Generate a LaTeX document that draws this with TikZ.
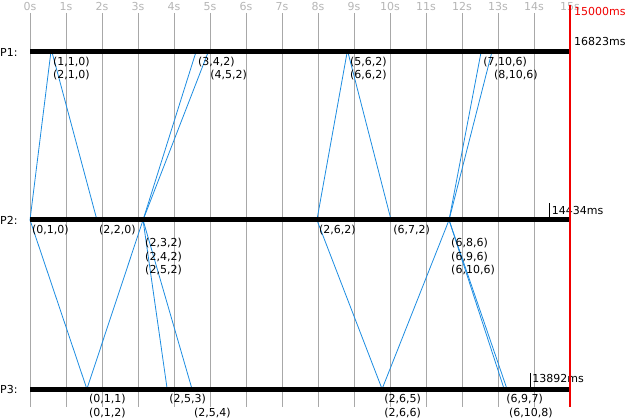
\documentclass[tikz,border=0pt]{standalone}
\usepackage{fontspec}
\setmainfont{DejaVu Sans}
\usepackage{tikz}
\usetikzlibrary{positioning}
\definecolor{msgblue}{RGB}{28,140,225}
\definecolor{gridgray}{RGB}{168,168,168}
\definecolor{limitred}{RGB}{240,0,0}

\begin{document}
\begin{tikzpicture}[
  x=1pt, y=-1pt,
  every node/.style={font=\fontsize{11}{13}\selectfont, inner sep=0pt},
  proc/.style={line width=5pt, black},
  gridln/.style={draw=gridgray, line width=0.8pt},
  tlabel/.style={text=gridgray!85!white},
  limit/.style={draw=limitred, line width=2.5pt},
  msg/.style={draw=msgblue, line width=0.8pt},
  clock/.style={anchor=west, xshift=2pt},
  endtick/.style={line width=0.8pt, black},
  endlbl/.style={anchor=west, xshift=2pt}
]
  \useasboundingbox (0,0) rectangle (629,419);

  %% --- Process names ---
  \node[anchor=west] (n1) at (0, 52)  {P1:};
  \node[anchor=west] (n2) at (0, 220) {P2:};
  \node[anchor=west] (n3) at (0, 389) {P3:};

  \begin{scope}[xshift=30pt, x=36pt]
  %% --- Time grid (x in seconds) ---
  \foreach \s in {0,...,15} {
    \draw[gridln] (\s, 13) -- (\s, 407);
    \node[tlabel] (t\s) at (\s, 7) {\s s};
  }

  %% --- Events on P1 ---
  \coordinate (e110)  at (0.58, 52);
  \coordinate (e210)  at (0.61, 52);
  \coordinate (e342)  at (4.61, 52);
  \coordinate (e452)  at (4.95, 52);
  \coordinate (e562)  at (8.81, 52);
  \coordinate (e662)  at (8.83, 52);
  \coordinate (e7106) at (12.53, 52);
  \coordinate (e8106) at (12.83, 52);

  %% --- Events on P2 ---
  \coordinate (e010)  at (0.00, 220);
  \coordinate (e220)  at (1.86, 220);
  \coordinate (e232)  at (3.14, 220);
  \coordinate (e242)  at (3.14, 220);
  \coordinate (e252)  at (3.14, 220);
  \coordinate (e262)  at (7.97, 220);
  \coordinate (e672)  at (10.03, 220);
  \coordinate (e686)  at (11.64, 220);
  \coordinate (e696)  at (11.64, 220);
  \coordinate (e6106) at (11.64, 220);

  %% --- Events on P3 ---
  \coordinate (e011)  at (1.58, 389);
  \coordinate (e012)  at (1.58, 389);
  \coordinate (e253)  at (3.81, 389);
  \coordinate (e254)  at (4.50, 389);
  \coordinate (e265)  at (9.78, 389);
  \coordinate (e266)  at (9.78, 389);
  \coordinate (e697)  at (13.17, 389);
  \coordinate (e6108) at (13.25, 389);

  %% --- Messages ---
  \draw[msg] (e010)  -- (e110);
  \draw[msg] (e010)  -- (e011);
  \draw[msg] (e210)  -- (e220);
  \draw[msg] (e012)  -- (e232);
  \draw[msg] (e242)  -- (e342);
  \draw[msg] (e252)  -- (e452);
  \draw[msg] (e252)  -- (e253);
  \draw[msg] (e242)  -- (e254);
  \draw[msg] (e262)  -- (e562);
  \draw[msg] (e262)  -- (e265);
  \draw[msg] (e662)  -- (e672);
  \draw[msg] (e266)  -- (e686);
  \draw[msg] (e696)  -- (e7106);
  \draw[msg] (e6106) -- (e8106);
  \draw[msg] (e6106) -- (e697);
  \draw[msg] (e696)  -- (e6108);

  %% --- Process lines ---
  \coordinate (p1s) at (0, 52);  \coordinate (p1e) at (15, 52);
  \coordinate (p2s) at (0, 220); \coordinate (p2e) at (15, 220);
  \coordinate (p3s) at (0, 389); \coordinate (p3e) at (15, 389);
  \draw[proc] (p1s) -- (p1e);
  \draw[proc] (p2s) -- (p2e);
  \draw[proc] (p3s) -- (p3e);

  %% --- Vector clock labels ---
  \node[clock] (l110)  at ([yshift=-10pt]e110)   {(1,1,0)};
  \node[clock] (l210)  at ([yshift=-23.5pt]e110) {(2,1,0)};
  \node[clock] (l342)  at ([yshift=-10pt]e342)   {(3,4,2)};
  \node[clock] (l452)  at ([yshift=-23.5pt]e452) {(4,5,2)};
  \node[clock] (l562)  at ([yshift=-10pt]e662)   {(5,6,2)};
  \node[clock] (l662)  at ([yshift=-23.5pt]e662) {(6,6,2)};
  \node[clock] (l7106) at ([yshift=-10pt]e7106)  {(7,10,6)};
  \node[clock] (l8106) at ([yshift=-23.5pt]e8106){(8,10,6)};

  \node[clock] (l010)  at ([yshift=-10.5pt]e010) {(0,1,0)};
  \node[clock] (l220)  at ([yshift=-10.5pt]e220) {(2,2,0)};
  \node[clock] (l232)  at ([yshift=-23.5pt]e232) {(2,3,2)};
  \node[clock] (l242)  at ([yshift=-37pt]e242)   {(2,4,2)};
  \node[clock] (l252)  at ([yshift=-50.5pt]e252) {(2,5,2)};
  \node[clock] (l262)  at ([yshift=-10.5pt]e262) {(2,6,2)};
  \node[clock] (l672)  at ([yshift=-10.5pt]e672) {(6,7,2)};
  \node[clock] (l686)  at ([yshift=-23.5pt]e686) {(6,8,6)};
  \node[clock] (l696)  at ([yshift=-37pt]e696)   {(6,9,6)};
  \node[clock] (l6106) at ([yshift=-50.5pt]e6106){(6,10,6)};

  \node[clock] (l011)  at ([yshift=-10.5pt]e011) {(0,1,1)};
  \node[clock] (l012)  at ([yshift=-24pt]e012)   {(0,1,2)};
  \node[clock] (l253)  at ([yshift=-10.5pt]e253) {(2,5,3)};
  \node[clock] (l254)  at ([yshift=-24pt]e254)   {(2,5,4)};
  \node[clock] (l265)  at ([yshift=-10.5pt]e265) {(2,6,5)};
  \node[clock] (l266)  at ([yshift=-24pt]e266)   {(2,6,6)};
  \node[clock] (l697)  at ([yshift=-10.5pt]e697) {(6,9,7)};
  \node[clock] (l6108) at ([yshift=-24pt]e6108)  {(6,10,8)};

  %% --- End times ---
  \coordinate (end2) at (14.434, 220);
  \coordinate (end3) at (13.892, 389);
  \draw[endtick] ([yshift=3pt]end2) -- ([yshift=17pt]end2);
  \draw[endtick] ([yshift=2pt]end3) -- ([yshift=16pt]end3);
  \node[endlbl] (d2) at ([yshift=10pt]end2) {14434ms};
  \node[endlbl] (d3) at ([yshift=11pt]end3) {13892ms};
  \node[endlbl, xshift=2pt] (d1) at ([yshift=10pt]p1e) {16823ms};

  %% --- Limit at 15 s ---
  \coordinate (limtop) at (15, 5);
  \coordinate (limbot) at (15, 407);
  \draw[limit] (limtop) -- (limbot);
  \node[endlbl, xshift=2pt, text=limitred] (lim) at (15, 12) {15000ms};
  \end{scope}
\end{tikzpicture}
\end{document}
